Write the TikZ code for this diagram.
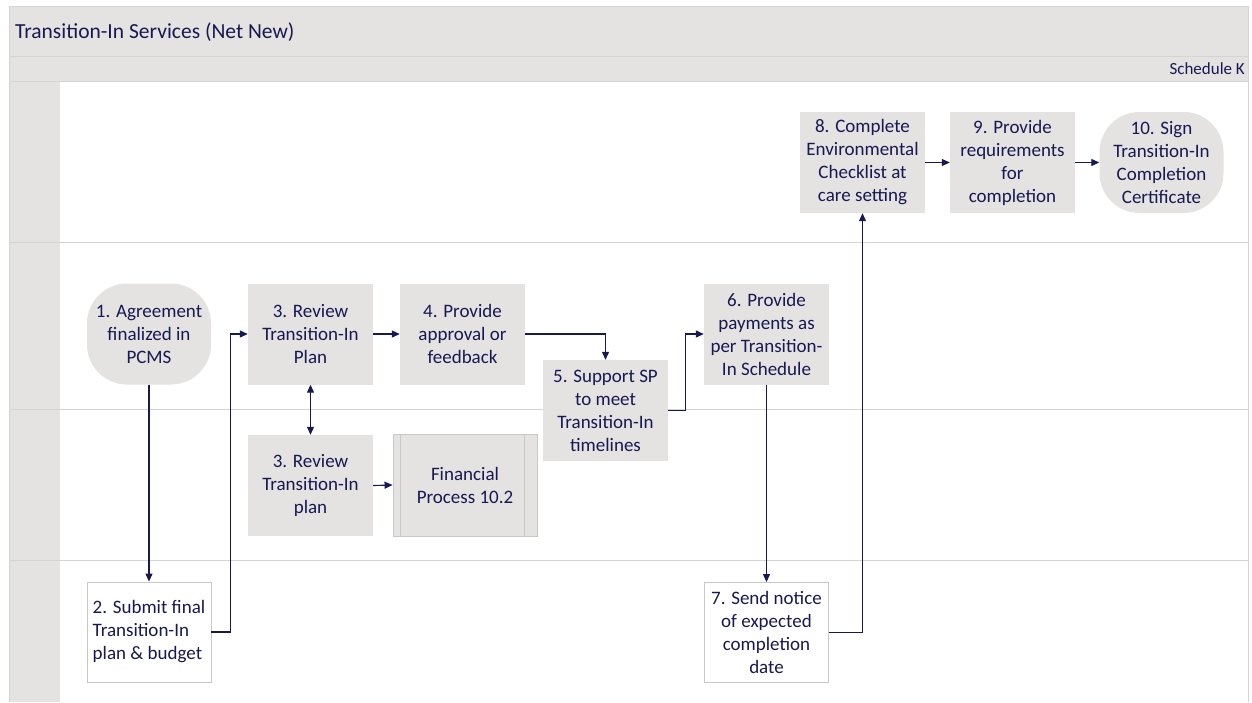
\documentclass[tikz,border=0pt]{standalone}
\usepackage{fontspec}
\setmainfont{Carlito}
\usetikzlibrary{arrows.meta}
\definecolor{ink}{RGB}{24,24,82}
\definecolor{panel}{RGB}{228,227,226}
\definecolor{rule}{RGB}{212,212,212}
\definecolor{edge}{RGB}{200,200,200}
\tikzset{
  lbl/.style={font=\fontsize{19}{23}\selectfont, text=ink, align=center, inner sep=0pt},
  procbox/.style={lbl, fill=panel, minimum width=125pt, minimum height=101pt},
  blob/.style={lbl, fill=panel, rounded corners=40pt, minimum width=124pt, minimum height=101pt},
  docbox/.style={lbl, fill=white, draw=edge, line width=0.9pt, minimum width=124pt, minimum height=100pt},
  subproc/.style={lbl, fill=panel, draw=edge, line width=0.9pt, minimum width=144pt, minimum height=102pt},
  arr/.style={draw=ink, line width=1.1pt, -{Triangle[length=8pt,width=7pt]}},
  biarr/.style={draw=ink, line width=1.1pt, {Triangle[length=8pt,width=7pt]}-{Triangle[length=8pt,width=7pt]}},
}
\begin{document}
\begin{tikzpicture}[x=1pt, y=-1pt]
\useasboundingbox (0,0) rectangle (1252,702);
\fill[white] (0,0) rectangle (1252,702);
% header bands and the lane-label column
\fill[panel] (9,6) rectangle (1248,81);
\fill[panel] (9,81) rectangle (60,702);
\draw[rule, line width=1pt] (9,56) -- (1248,56);
\draw[rule, line width=1pt] (9,81) -- (1248,81);
\draw[rule, line width=1pt] (9,6) -- (1248,6);
\draw[rule, line width=1pt] (9,6) -- (9,702);
\draw[rule, line width=1pt] (1248,6) -- (1248,702);
% lane separators
\foreach \yy in {242,409,560} \draw[rule, line width=1pt] (9,\yy) -- (1248,\yy);
\node[font=\fontsize{21.5}{25}\selectfont, text=ink, anchor=west, inner sep=0pt] (title) at (15,32) {Transition-In Services (Net New)};
\node[font=\fontsize{17}{20}\selectfont, text=ink, anchor=east, inner sep=0pt] (sched) at (1245,69) {Schedule K};

% process steps
\node[blob] (n1) at (149,334) {1. Agreement\\finalized in\\PCMS};
\node[docbox, align=left] (n2) at (149,632) {2. Submit final\\Transition-In\\plan \& budget};
\node[procbox] (n3) at (310.5,334) {3. Review\\Transition-In\\Plan};
\node[procbox] (n3b) at (310.5,485.5) {3. Review\\Transition-In\\plan};
\node[procbox] (n4) at (462.5,334) {4. Provide\\approval or\\feedback};
\node[procbox] (n5) at (605.5,410.5) {5. Support SP\\to meet\\Transition-In\\timelines};
\node[subproc] (fin) at (465,485) {Financial\\Process 10.2};
\draw[edge, line width=0.9pt] ([xshift=8pt]fin.north west) -- ([xshift=8pt]fin.south west);
\draw[edge, line width=0.9pt] ([xshift=-13pt]fin.north east) -- ([xshift=-13pt]fin.south east);
\node[procbox] (n6) at (766.5,334) {6. Provide\\payments as\\per Transition-\\In Schedule};
\node[docbox] (n7) at (766.5,632.5) {7. Send notice\\of expected\\completion\\date};
\node[procbox] (n8) at (862.5,162.5) {8. Complete\\Environmental\\Checklist at\\care setting};
\node[procbox] (n9) at (1012.5,162.5) {9. Provide\\requirements\\for\\completion};
\node[blob] (n10) at (1161.5,162.5) {10. Sign\\Transition-In\\Completion\\Certificate};

% connectors
\draw[arr] (n1.south) -- (n2.north);
\draw[arr] (n2.east) -- ++(19,0) |- (n3.west);
\draw[arr] (n3.east) -- (n4.west);
\draw[biarr] (n3.south) -- (n3b.north);
\draw[arr] (n3b.east) -- (fin.west);
\draw[arr] (n4.east) -| (n5.north);
\draw[arr] (n5.east) -- ++(17,0) |- (n6.west);
\draw[arr] (n6.south) -- (n7.north);
\draw[arr] (n7.east) -| (n8.south);
\draw[arr] (n8.east) -- (n9.west);
\draw[arr] (n9.east) -- (n10.west);
\end{tikzpicture}
\end{document}
